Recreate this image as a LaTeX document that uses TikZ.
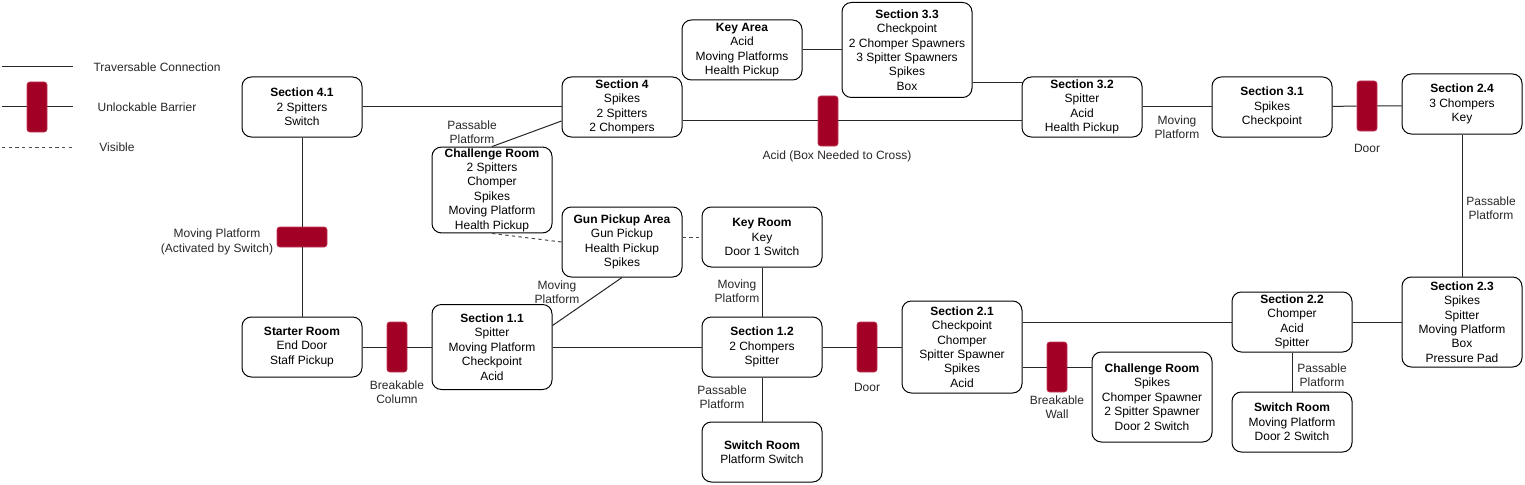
\documentclass[tikz,border=0pt]{standalone}
\usepackage{fontspec}
\setmainfont{Liberation Sans}
\usepackage{xcolor}
\usepackage{tikz}
\definecolor{barrier}{RGB}{162, 0, 37}
\definecolor{barrieredge}{RGB}{196, 60, 90}
\definecolor{labeltext}{RGB}{40, 40, 40}

\tikzset{
  room/.style={draw, line width=0.75pt, fill=white, rounded corners=7pt,
    minimum width=90pt, minimum height=45pt, align=center, inner sep=1pt,
    font=\fontsize{9}{10.8}\selectfont},
  bar/.style={fill=barrier, draw=barrieredge, line width=0.5pt, rounded corners=2pt,
    minimum width=15pt, minimum height=37.5pt, inner sep=0pt},
  hbar/.style={bar, minimum width=37.5pt, minimum height=15pt},
  link/.style={line width=0.75pt, draw=black!85},
  seen/.style={line width=0.75pt, draw=black!70, dash pattern=on 2.5pt off 2.5pt},
  lbl/.style={text=labeltext, align=center, inner sep=0pt,
    font=\fontsize{9}{10.8}\selectfont}
}

\begin{document}
\begin{tikzpicture}[x=0.75pt, y=-0.75pt]

\useasboundingbox[fill=white] (0,0) rectangle (1525,485);

% legend
\coordinate (lga) at (2,67);
\coordinate (lgb) at (73,67);
\coordinate (lgc) at (2,107);
\coordinate (lgd) at (73,107);
\coordinate (lge) at (2,147);
\coordinate (lgf) at (73,147);
\draw[link] (lga) -- (lgb);
\draw[link] (lgc) -- (lgd);
\node[bar] (lgbar) at (37,107) {};
\draw[seen] (lge) -- (lgf);
\node[lbl] at (157,67) {Traversable Connection};
\node[lbl] at (147,107) {Unlockable Barrier};
\node[lbl] at (117,147) {Visible};

% rooms
\node[room] (s41) at (302,107) {\textbf{Section 4.1}\\2 Spitters\\Switch};
\node[room] (s4) at (622,107) {\textbf{Section 4}\\Spikes\\2 Spitters\\2 Chompers};
\node[room] (keyarea) at (742,50) {\textbf{Key Area}\\Acid\\Moving Platforms\\Health Pickup};
\node[room, minimum width=97.5pt, minimum height=71.25pt] (s33) at (907,50)
  {\textbf{Section 3.3}\\Checkpoint\\2 Chomper Spawners\\3 Spitter Spawners\\Spikes\\Box};
\node[room] (s32) at (1082,107) {\textbf{Section 3.2}\\Spitter\\Acid\\Health Pickup};
\node[room] (s31) at (1272,107) {\textbf{Section 3.1}\\Spikes\\Checkpoint};
\node[room] (s24) at (1462,104) {\textbf{Section 2.4}\\3 Chompers\\Key};
\node[room, minimum height=63.75pt] (cr1) at (492,190)
  {\textbf{Challenge Room}\\2 Spitters\\Chomper\\Spikes\\Moving Platform\\Health Pickup};
\node[room, minimum height=52.5pt] (gpa) at (622,242)
  {\textbf{Gun Pickup Area}\\Gun Pickup\\Health Pickup\\Spikes};
\node[room] (keyroom) at (762,237) {\textbf{Key Room}\\Key\\Door 1 Switch};
\node[room] (starter) at (302,347) {\textbf{Starter Room}\\End Door\\Staff Pickup};
\node[room, minimum height=63.75pt] (s11) at (492,347)
  {\textbf{Section 1.1}\\Spitter\\Moving Platform\\Checkpoint\\Acid};
\node[room] (s12) at (762,347) {\textbf{Section 1.2}\\2 Chompers\\Spitter};
\node[room] (sw1) at (762,452) {\textbf{Switch Room}\\Platform Switch};
\node[room, minimum height=69pt] (s21) at (962,347)
  {\textbf{Section 2.1}\\Checkpoint\\Chomper\\Spitter Spawner\\Spikes\\Acid};
\node[room, minimum height=67.5pt] (cr2) at (1152,397)
  {\textbf{Challenge Room}\\Spikes\\Chomper Spawner\\2 Spitter Spawner\\Door 2 Switch};
\node[room] (s22) at (1292,322) {\textbf{Section 2.2}\\Chomper\\Acid\\Spitter};
\node[room] (sw2) at (1292,422) {\textbf{Switch Room}\\Moving Platform\\Door 2 Switch};
\node[room, minimum height=67.5pt] (s23) at (1462,322)
  {\textbf{Section 2.3}\\Spikes\\Spitter\\Moving Platform\\Box\\Pressure Pad};

% barriers
\node[hbar] (mpbar) at (302,237) {};
\node[bar] (colbar) at (397,347) {};
\node[bar] (acidbar) at (828,121) {};
\node[bar] (door1) at (867,347) {};
\node[bar] (wallbar) at (1057,367) {};
\node[bar] (door2) at (1367,106) {};

% connections
\draw[link] (s41) -- (s4);
\draw[link] (keyarea) -- (s33);
\draw[link] ([yshift=-24.4pt]s33.east) -- ([yshift=-24.4pt]s33.east -| s32.west);
\draw[link] (s4.east |- acidbar) -- (acidbar) -- (s32.west |- acidbar);
\draw[link] (cr1.north) -- (s4.west |- acidbar);
\draw[link] (s32) -- (s31);
\draw[link] (s31) -- (door2) -- (s24.west |- door2);
\draw[link] (s24) -- (s23);
\draw[link] (s41) -- (mpbar) -- (starter);
\draw[link] (starter) -- (colbar) -- (s11);
\draw[link] (s11) -- (s12);
\draw[link] (gpa.south) -- ([yshift=16.1pt]s11.east);
\draw[link] (keyroom) -- (s12);
\draw[link] (s12) -- (sw1);
\draw[link] (s12) -- (door1) -- (s21);
\draw[link] (s21.east |- s22) -- (s22);
\draw[link] (s21.east |- wallbar) -- (wallbar) -- (cr2.west |- wallbar);
\draw[link] (s22) -- (s23);
\draw[link] (s22) -- (sw2);
\draw[seen] (cr1.south) -- (gpa.west);
\draw[seen] (gpa.east |- keyroom) -- (keyroom);

% connection labels
\node[lbl] at (217,242) {Moving Platform\\(Activated by Switch)};
\node[lbl] at (472,132) {Passable\\Platform};
\node[lbl] at (837,156) {Acid (Box Needed to Cross)};
\node[lbl] at (1177,127) {Moving\\Platform};
\node[lbl] at (1367,148) {Door};
\node[lbl] at (1491,208) {Passable\\Platform};
\node[lbl] at (557,292) {Moving\\Platform};
\node[lbl] at (397,392) {Breakable\\Column};
\node[lbl] at (737,291) {Moving\\Platform};
\node[lbl] at (722,397) {Passable\\Platform};
\node[lbl] at (867,387) {Door};
\node[lbl] at (1057,407) {Breakable\\Wall};
\node[lbl] at (1322,375) {Passable\\Platform};

\end{tikzpicture}
\end{document}
